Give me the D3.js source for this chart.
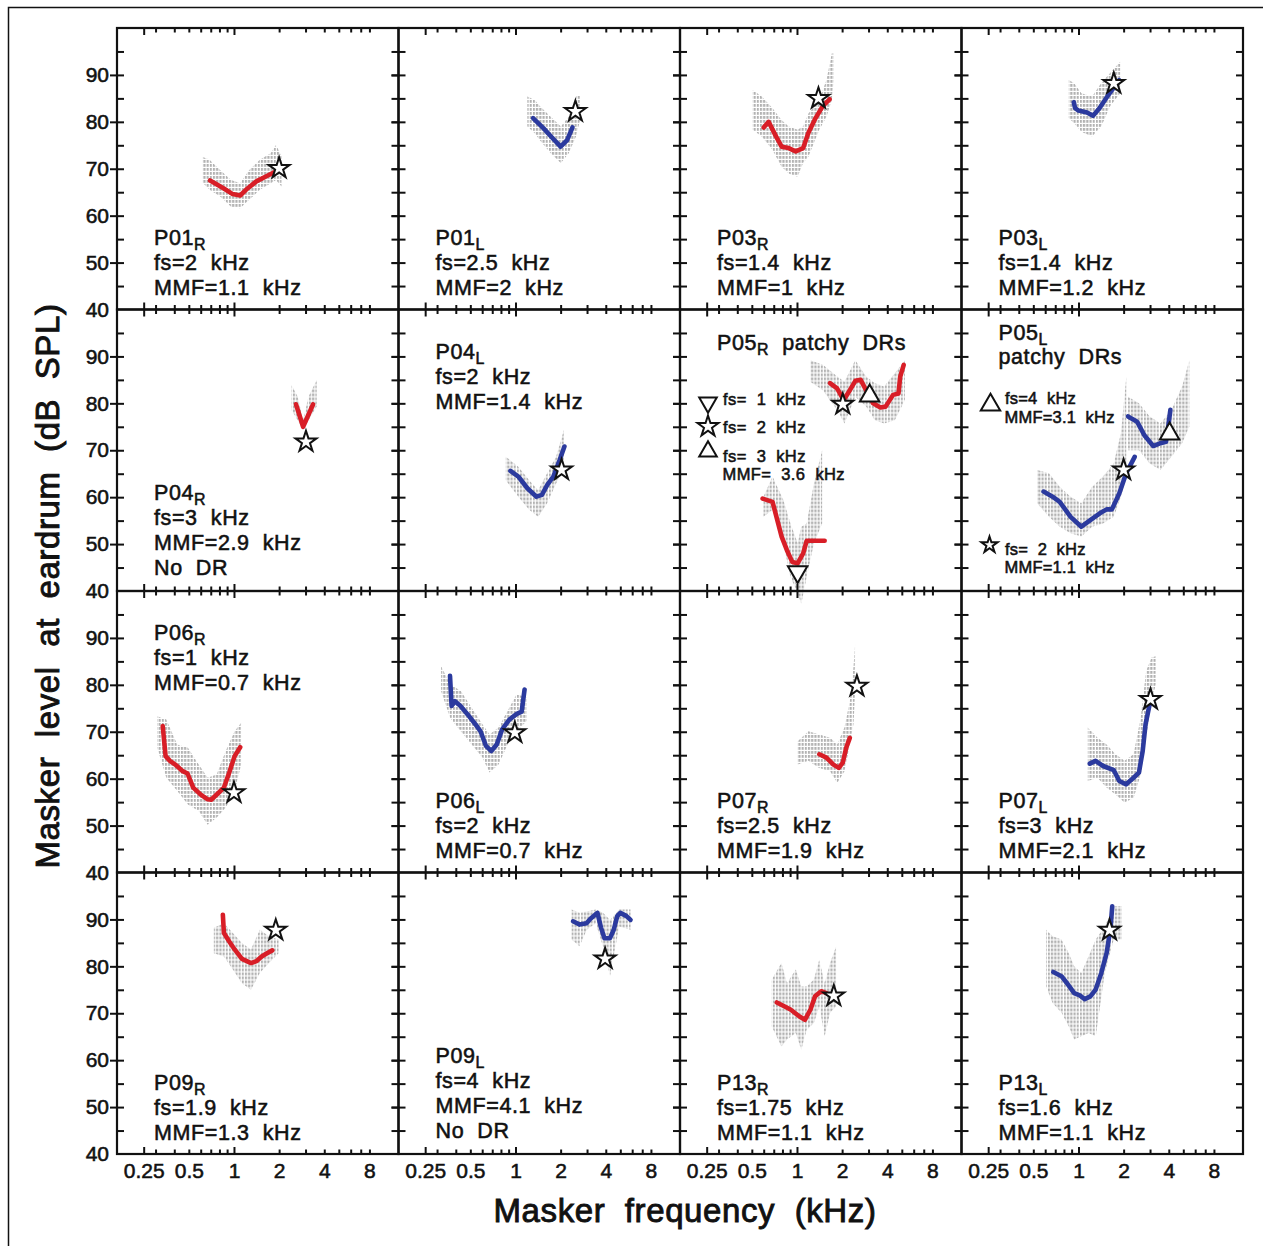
<!DOCTYPE html>
<html>
<head>
<meta charset="utf-8">
<script src="https://cdn.jsdelivr.net/npm/d3@7"></script>
<style>
  html, body { margin: 0; padding: 0; background: #fff; }
  svg { display: block; }
  text { font-family: "Liberation Sans", Arial, sans-serif; fill: #111; stroke: #111; stroke-width: 0.55px; white-space: pre; }
</style>
</head>
<body>
<svg id="chart" width="1263" height="1246"></svg>
<script>
// ---------------- DATA ----------------
const xTickValues = [0.25,0.3,0.4,0.5,0.6,0.7,0.8,0.9,1,2,3,4,5,6,7,8];
const xMajorTicks = [0.25,1];
const xTickLabels = [0.25,0.5,1,2,4,8];
const yMinorTicks = [45,55,65,75,85,95];
const yMajorTicks = [50,60,70,80,90];
const yTickLabels = [40,50,60,70,80,90];

// gray bands: [freq kHz, low dB, high dB]
const p01R_band = [[0.62,67.0,72.5],[0.687,65.5,71.9],[0.811,64.1,69.7],[0.956,61.9,67.6],[1.098,61.6,66.9],[1.261,63.4,69.7],[1.488,65.5,71.9],[1.757,66.9,73.3],[1.908,67.6,75.1],[2.073,66.2,72.6]];
const p01L_band = [[1.2,79.0,85.4],[1.34,77.6,84.7],[1.456,76.1,83.3],[1.718,73.3,81.1],[2.006,71.2,79.0],[2.265,73.3,81.1],[2.53,76.9,85.4],[2.70,80.4,85.7]];
const p03R_band = [[0.507,78.3,86.8],[0.582,76.9,85.4],[0.687,74.0,82.9],[0.788,70.5,80.4],[0.881,69.0,79.0],[1.01,68.3,78.3],[1.098,71.2,79.0],[1.193,72.6,81.8],[1.408,78.3,84.7],[1.573,81.1,88.9],[1.709,84.7,94.6],[1.757,88.9,94.6]];
const p03L_band = [[0.862,80.8,88.9],[0.936,79.7,88.2],[1.045,77.9,86.1],[1.234,76.9,85.4],[1.416,79.0,88.2],[1.626,83.3,90.4],[1.898,86.1,92.8]];
const p04R_band = [[2.42,78.6,83.9],[2.66,76.4,81.4],[2.89,74.3,76.4],[3.14,76.4,81.4],[3.56,79.3,85.0]];
const p04L_band = [[0.862,63.6,68.6],[1.045,60.1,66.5],[1.234,57.3,63.6],[1.416,55.8,61.5],[1.626,58.7,65.1],[1.866,62.9,68.6],[2.12,66.5,74.7]];
const p05R_bandHigh = [[1.227,84.6,89.2],[1.488,82.8,88.2],[1.856,78.6,85.7],[2.073,75.7,84.6],[2.447,81.4,89.2],[2.89,79.3,85.7],[3.31,76.4,84.3],[3.81,75.7,83.6],[4.49,76.4,86.4],[5.24,80.7,89.2]];
const p05R_bandLow = [[0.598,55.8,60.1],[0.687,57.3,64.4],[0.811,50.2,59.4],[0.905,43.0,54.4],[1.011,39.5,50.2],[1.068,37.3,53.7],[1.161,43.0,54.4],[1.297,50.2,62.9],[1.472,54.4,70.0]];
const p05L_bandLow = [[0.53,58.7,65.8],[0.636,55.8,65.1],[0.75,53.7,62.2],[0.886,52.3,60.1],[1.045,51.6,58.7],[1.234,53.7,62.2],[1.456,54.4,64.4],[1.718,55.8,67.2],[1.919,60.1,73.6],[2.085,64.4,85.7]];
const p05L_bandHigh = [[2.14,70.0,81.4],[2.53,70.0,80.0],[2.985,67.2,77.2],[3.52,65.8,75.7],[4.16,68.6,78.6],[4.91,71.5,83.6],[5.48,75.0,89.2]];
const p06R_band = [[0.308,66.6,73.3],[0.354,60.2,72.6],[0.418,57.4,67.3],[0.493,54.5,66.6],[0.582,53.1,63.0],[0.668,50.2,60.2],[0.767,51.7,60.9],[0.881,53.8,65.9],[1.011,57.4,70.1],[1.117,63.0,71.9]];
const p06L_band = [[0.319,78.7,84.0],[0.366,73.0,80.1],[0.432,70.1,78.7],[0.51,67.3,75.1],[0.602,64.5,71.6],[0.672,61.3,69.4],[0.771,63.0,70.9],[0.886,67.3,74.4],[1.017,70.1,78.0],[1.187,72.3,77.3]];
const p07R_band = [[1.011,63.0,68.0],[1.193,63.8,70.1],[1.408,62.3,69.4],[1.662,61.6,68.7],[1.856,59.1,67.3],[2.073,61.6,70.9],[2.252,67.3,76.5],[2.38,71.6,83.7],[2.447,78.7,89.0]];
const p07L_band = [[1.154,59.5,70.9],[1.34,60.2,68.7],[1.539,58.1,67.3],[1.766,56.6,65.2],[2.028,54.9,63.8],[2.33,55.9,65.2],[2.6,60.9,73.0],[2.825,68.7,82.9],[3.07,76.5,85.8],[3.28,80.1,86.1]];
const p09R_band = [[0.734,82.8,88.2],[0.857,82.1,89.2],[0.983,79.3,87.1],[1.129,76.4,85.0],[1.297,75.0,83.6],[1.488,78.6,87.8],[1.709,80.7,86.4],[1.984,82.8,85.7]];
const p09L_band = [[2.367,85.7,92.1],[2.673,84.3,91.4],[2.985,87.8,91.7],[3.43,89.2,92.1],[3.83,84.3,91.4],[4.27,77.9,89.9],[4.91,88.5,92.1],[5.86,87.8,92.1]];
const p13R_band = [[0.679,67.2,77.2],[0.788,62.9,80.7],[0.857,64.4,76.4],[0.983,65.8,79.3],[1.068,62.2,75.7],[1.161,66.5,75.7],[1.297,67.9,77.2],[1.408,71.5,81.4],[1.53,65.1,76.4],[1.662,70.1,80.7],[1.826,71.5,84.3]];
const p13L_band = [[0.608,75.7,87.8],[0.672,72.2,86.4],[0.771,70.1,85.7],[0.862,67.2,82.8],[0.936,64.4,80.0],[1.045,65.1,78.6],[1.167,65.8,82.1],[1.304,65.1,85.7],[1.497,78.6,88.5],[1.718,85.7,92.8],[1.94,85.7,92.8]];

// coloured (smoothed) lines: [freq kHz, level dB]
const p01R_line = [[0.693,67.5],[0.856,65.8],[0.98,64.6],[1.10,64.3],[1.23,65.8],[1.41,67.3],[1.67,68.5],[1.84,69.2]];
const p01L_line = [[1.31,80.8],[1.54,78.6],[1.77,76.5],[2.0,74.7],[2.21,76.1],[2.4,78.8]];
const p03R_line = [[0.60,78.8],[0.647,80.0],[0.725,76.9],[0.79,74.7],[0.88,74.4],[0.98,73.7],[1.10,74.4],[1.19,77.6],[1.33,80.8],[1.49,83.4],[1.65,84.8]];
const p03L_line = [[0.93,84.2],[0.95,82.9],[1.0,82.4],[1.14,82.0],[1.25,81.3],[1.38,82.9],[1.58,85.7],[1.87,88.9]];
const p04R_line = [[2.59,79.8],[2.89,75.0],[3.37,79.8]];
const p04L_line = [[0.926,65.6],[1.045,64.4],[1.2,61.9],[1.38,60.1],[1.5,60.5],[1.63,62.6],[1.79,64.4],[1.97,67.9],[2.12,70.8]];
const p05R_lineHigh = [[1.66,84.3],[1.85,83.2],[2.05,80.7],[2.25,82.8],[2.45,84.8],[2.66,85.0],[2.89,82.8],[3.22,80.0],[3.6,79.1],[3.9,79.3],[4.37,81.8],[4.75,82.1],[4.88,85.7],[5.15,88.2]];
const p05R_lineLow = [[0.59,59.7],[0.687,59.0],[0.79,51.6],[0.857,48.7],[0.93,46.2],[1.01,45.9],[1.1,48.0],[1.16,50.7],[1.53,50.7]];
const p05L_lineLow = [[0.585,61.2],[0.672,60.1],[0.75,59.0],[0.886,55.8],[1.045,53.7],[1.2,55.1],[1.38,56.5],[1.54,57.4],[1.67,57.4],[1.87,60.8],[2.08,65.1],[2.37,68.6]];
const p05L_lineHigh = [[2.14,77.2],[2.46,76.1],[2.75,73.2],[3.15,70.9],[3.52,71.5],[3.83,71.8],[3.94,74.3],[4.1,78.6]];
const p06R_line = [[0.335,71.2],[0.35,64.8],[0.374,63.8],[0.406,63.0],[0.455,61.6],[0.49,61.1],[0.535,58.1],[0.6,56.6],[0.668,55.6],[0.705,55.5],[0.79,57.0],[0.857,58.1],[0.93,61.3],[1.01,64.8],[1.1,66.7]];
const p06L_line = [[0.366,81.9],[0.375,75.5],[0.395,76.5],[0.43,75.5],[0.48,73.7],[0.54,71.6],[0.585,70.1],[0.635,67.0],[0.69,65.9],[0.75,67.3],[0.815,70.5],[0.91,72.6],[1.02,73.8],[1.1,74.3],[1.15,79.0]];
const p07R_line = [[1.41,65.2],[1.57,64.5],[1.75,63.0],[1.9,62.3],[2.02,63.4],[2.13,66.6],[2.25,68.7]];
const p07L_line = [[1.19,63.2],[1.3,63.8],[1.46,62.7],[1.72,61.8],[1.87,59.5],[2.08,58.8],[2.33,60.2],[2.53,61.3],[2.68,65.9],[2.8,71.6],[2.98,75.8]];
const p09R_line = [[0.843,91.0],[0.857,87.1],[0.93,85.3],[1.01,83.6],[1.13,81.6],[1.3,80.7],[1.41,81.1],[1.53,82.1],[1.66,82.8],[1.8,83.4]];
const p09L_line = [[2.42,89.6],[2.67,88.9],[2.98,89.2],[3.15,90.1],[3.52,91.4],[3.72,88.2],[3.92,86.0],[4.27,86.0],[4.52,87.8],[4.77,90.7],[5.0,91.4],[5.5,90.7],[5.85,89.9]];
const p13R_line = [[0.734,72.3],[0.81,71.6],[0.905,70.8],[1.04,69.3],[1.13,68.6],[1.23,70.8],[1.32,73.6],[1.45,74.7],[1.57,74.3]];
const p13L_line = [[0.679,78.8],[0.77,77.9],[0.838,76.4],[0.936,74.3],[1.02,73.8],[1.1,73.0],[1.2,73.6],[1.3,75.0],[1.42,78.6],[1.54,82.8],[1.63,87.8],[1.68,92.8]];

// markers: [symbol, freq kHz, level dB]
const p01R_marks = [["star",2.0,70.1]];
const p01L_marks = [["star",2.51,82.2]];
const p03R_marks = [["star",1.39,85.0]];
const p03L_marks = [["star",1.72,88.2]];
const p04R_marks = [["star",3.02,71.8]];
const p04L_marks = [["star",2.03,65.8]];
const p05R_marks = [["down",1.01,44.1],["star",2.02,79.8],["up",3.05,81.6]];
const p05L_marks = [["star",2.0,65.8],["up",4.05,73.5]];
const p06R_marks = [["star",1.0,57.0]];
const p06L_marks = [["star",0.99,69.8]];
const p07R_marks = [["star",2.51,79.7]];
const p07L_marks = [["star",3.02,76.9]];
const p09R_marks = [["star",1.9,87.7]];
const p09L_marks = [["star",3.96,81.6]];
const p13R_marks = [["star",1.76,73.7]];
const p13L_marks = [["star",1.61,87.7]];

// panel ids, ears and text
const panelIds  = ["P01","P01","P03","P03","P04","P04","P05","P05","P06","P06","P07","P07","P09","P09","P13","P13"];
const panelEars = ["R","L","R","L","R","L","R","L","R","L","R","L","R","L","R","L"];
const panelFs   = ["fs=2  kHz","fs=2.5  kHz","fs=1.4  kHz","fs=1.4  kHz","fs=3  kHz","fs=2  kHz","","","fs=1  kHz","fs=2  kHz","fs=2.5  kHz","fs=3  kHz","fs=1.9  kHz","fs=4  kHz","fs=1.75  kHz","fs=1.6  kHz"];
const panelMmf  = ["MMF=1.1  kHz","MMF=2  kHz","MMF=1  kHz","MMF=1.2  kHz","MMF=2.9  kHz","MMF=1.4  kHz","","","MMF=0.7  kHz","MMF=0.7  kHz","MMF=1.9  kHz","MMF=2.1  kHz","MMF=1.3  kHz","MMF=4.1  kHz","MMF=1.1  kHz","MMF=1.1  kHz"];
const panelExtra = ["","","","","No  DR","","","","","","","","","No  DR","",""];
const panelTextPos = ["bottom","bottom","bottom","bottom","bottom","top","special","special","top","bottom","bottom","bottom","bottom","bottom","bottom","bottom"];
const p05R_legend = [["down","fs=  1  kHz",""],["star","fs=  2  kHz",""],["up","fs=  3  kHz","MMF=  3.6  kHz"]];
const p05L_legend = [["up","fs=4  kHz","MMF=3.1  kHz"],["star","fs=  2  kHz","MMF=1.1  kHz"]];

const xTitle = "Masker  frequency  (kHz)";
const yTitle = "Masker  level  at  eardrum  (dB  SPL)";

// ---------------- LAYOUT ----------------
const RED = "#d81e27", BLUE = "#2b3a9e", GRAY = "#b2b2b2";
const LEFT = 117, TOP = 28, PW = 281.5, PH = 281.5;
const FONT = "'Liberation Sans', Arial, sans-serif";

const bands = [[p01R_band],[p01L_band],[p03R_band],[p03L_band],[p04R_band],[p04L_band],[p05R_bandHigh,p05R_bandLow],[p05L_bandLow,p05L_bandHigh],[p06R_band],[p06L_band],[p07R_band],[p07L_band],[p09R_band],[p09L_band],[p13R_band],[p13L_band]];
const lines = [[p01R_line],[p01L_line],[p03R_line],[p03L_line],[p04R_line],[p04L_line],[p05R_lineHigh,p05R_lineLow],[p05L_lineLow,p05L_lineHigh],[p06R_line],[p06L_line],[p07R_line],[p07L_line],[p09R_line],[p09L_line],[p13R_line],[p13L_line]];
const marks = [p01R_marks,p01L_marks,p03R_marks,p03L_marks,p04R_marks,p04L_marks,p05R_marks,p05L_marks,p06R_marks,p06L_marks,p07R_marks,p07L_marks,p09R_marks,p09L_marks,p13R_marks,p13L_marks];

const panels = panelIds.map((id,i)=>({
  id, ear: panelEars[i], row: Math.floor(i/4), col: i%4,
  color: panelEars[i]==="R" ? RED : BLUE,
  bands: bands[i], lines: lines[i], marks: marks[i],
  fs: panelFs[i], mmf: panelMmf[i], extra: panelExtra[i], pos: panelTextPos[i]
}));

const svg = d3.select("#chart");
svg.append("rect").attr("width",1263).attr("height",1246).attr("fill","#fff");
svg.append("rect").attr("x",8.5).attr("y",7.5).attr("width",1300).attr("height",1300)
   .attr("fill","none").attr("stroke","#111").attr("stroke-width",1.5);

const defs = svg.append("defs");
const pat = defs.append("pattern").attr("id","grayDots").attr("patternUnits","userSpaceOnUse")
  .attr("width",3.2).attr("height",4);
pat.append("rect").attr("x",0).attr("y",0).attr("width",2.1).attr("height",2.8).attr("fill",GRAY);

const x = d3.scaleLog().domain([0.166,12.5]).range([0,PW]);
const y = d3.scaleLinear().domain([40,100]).range([PH,0]);

function symbolPath(type, r) {
  if (type === "star") return d3.symbol(d3.symbolStar, r*r/0.8908)();
  const size = Math.sqrt(3)/4 * (r*1.85)*(r*1.85);
  return d3.symbol(d3.symbolTriangle, size)();
}
function drawSymbol(g, type, cx, cy, r) {
  g.append("path").attr("d", symbolPath(type, r))
    .attr("transform", `translate(${cx},${cy})` + (type==="down" ? " rotate(180)" : ""))
    .attr("fill","#fff").attr("stroke","#111").attr("stroke-width",2).attr("stroke-linejoin","miter");
}
function labelText(g, xPos, yPos, main, sub, rest, size) {
  const t = g.append("text").attr("x",xPos).attr("y",yPos).attr("font-size",size).attr("letter-spacing",0.6);
  t.append("tspan").text(main);
  if (sub) t.append("tspan").attr("font-size",size*0.74).attr("dy",5).text(sub);
  if (rest) t.append("tspan").attr("dy",sub?-5:0).text(rest);
  return t;
}

const area = d3.area().x(d=>x(d[0])).y0(d=>y(d[1])).y1(d=>y(d[2]));
const line = d3.line().x(d=>x(d[0])).y(d=>y(d[1])).curve(d3.curveLinear);

function styleAxis(sel) {
  sel.select(".domain").remove();
  sel.selectAll("line").attr("stroke","#111").attr("stroke-width",2);
  sel.attr("font-family",FONT);
}

panels.forEach(p => {
  const g = svg.append("g").attr("transform",`translate(${LEFT+p.col*PW},${TOP+p.row*PH})`);

  // gray bands
  p.bands.forEach(b => g.append("path").attr("d",area(b)).attr("fill","url(#grayDots)"));
  // coloured lines
  p.lines.forEach(l => g.append("path").attr("d",line(l)).attr("fill","none")
     .attr("stroke",p.color).attr("stroke-width",4.6).attr("stroke-linejoin","round").attr("stroke-linecap","round"));
  // markers
  p.marks.forEach(m => drawSymbol(g, m[0], x(m[1]), y(m[2]), m[0]==="star"?11:10.5));

  // axes ticks (inward), mirrored on all sides
  const minorX = xTickValues.filter(v=>!xMajorTicks.includes(v));
  g.append("g").attr("transform",`translate(0,${PH})`).call(d3.axisBottom(x).tickValues(minorX).tickSize(-4.5).tickFormat("")).call(styleAxis);
  g.append("g").attr("transform",`translate(0,${PH})`).call(d3.axisBottom(x).tickValues(xMajorTicks).tickSize(-7).tickFormat("")).call(styleAxis);
  g.append("g").call(d3.axisTop(x).tickValues(minorX).tickSize(-4.5).tickFormat("")).call(styleAxis);
  g.append("g").call(d3.axisTop(x).tickValues(xMajorTicks).tickSize(-7).tickFormat("")).call(styleAxis);
  g.append("g").call(d3.axisLeft(y).tickValues(yMinorTicks.concat(yMajorTicks)).tickSize(-7).tickFormat("")).call(styleAxis);
  g.append("g").call(d3.axisLeft(y).tickValues(yMajorTicks).tickSize(7).tickFormat("")).call(styleAxis);
  g.append("g").attr("transform",`translate(${PW},0)`).call(d3.axisRight(y).tickValues(yMinorTicks.concat(yMajorTicks)).tickSize(-7).tickFormat("")).call(styleAxis);

  if (p.col === 0) {
    const a = g.append("g").call(d3.axisLeft(y).tickValues(yTickLabels).tickSize(0).tickPadding(8).tickFormat(d3.format("d")));
    a.select(".domain").remove();
    a.attr("font-family",FONT).attr("font-size",21);
    a.selectAll("text").attr("fill","#111");
  }
  if (p.row === 3) {
    const a = g.append("g").attr("transform",`translate(0,${PH})`)
      .call(d3.axisBottom(x).tickValues(xTickLabels).tickSize(0).tickPadding(9).tickFormat(d=>String(d)));
    a.select(".domain").remove();
    a.attr("font-family",FONT).attr("font-size",21);
    a.selectAll("text").attr("fill","#111");
  }

  // border
  g.append("rect").attr("width",PW).attr("height",PH).attr("fill","none").attr("stroke","#111").attr("stroke-width",2.2);

  // text
  const tx = 37, fsz = 21.5;
  if (p.pos === "bottom" || p.pos === "top") {
    let ys;
    if (p.pos === "top") ys = [49,74,99];
    else ys = p.extra ? [190,215,240,265] : [217,242,267];
    labelText(g, tx, ys[0], p.id, p.ear, "", fsz);
    labelText(g, tx, ys[1], p.fs, "", "", fsz);
    labelText(g, tx, ys[2], p.mmf, "", "", fsz);
    if (p.extra) labelText(g, tx, ys[3], p.extra, "", "", fsz);
  } else if (p.ear === "R") {
    labelText(g, tx, 40, p.id, p.ear, "  patchy  DRs", fsz);
    const symY = [93, 117, 142], txtY = [95.5, 123.8, 152.2];
    p05R_legend.forEach((d,k) => {
      drawSymbol(g, d[0], 28, symY[k], d[0]==="star"?11:9.5);
      g.append("text").attr("x",43).attr("y",txtY[k]).attr("font-size",16.5).attr("letter-spacing",0.4).text(d[1]);
      if (d[2]) g.append("text").attr("x",42.5).attr("y",txtY[k]+18.3).attr("font-size",16.5).attr("letter-spacing",0.4).text(d[2]);
    });
  } else {
    labelText(g, tx, 30.5, p.id, p.ear, "", fsz);
    labelText(g, tx, 54.5, "patchy  DRs", "", "", fsz);
    const symPos = [[29,95.5,10.5],[28,235.5,8.5]], txtY = [[94.8,113.8],[245.5,263.8]];
    p05L_legend.forEach((d,k) => {
      drawSymbol(g, d[0], symPos[k][0], symPos[k][1], symPos[k][2]);
      g.append("text").attr("x",43.5).attr("y",txtY[k][0]).attr("font-size",16.5).attr("letter-spacing",0.2).text(d[1]);
      g.append("text").attr("x",43).attr("y",txtY[k][1]).attr("font-size",16.5).attr("letter-spacing",0.2).text(d[2]);
    });
  }
});

// axis titles
svg.append("text").attr("x",685).attr("y",1222).attr("text-anchor","middle")
  .attr("font-size",33).attr("letter-spacing",0.6).style("stroke-width","0.9px").text(xTitle);
svg.append("text").attr("transform","translate(59,586) rotate(-90)").attr("text-anchor","middle")
  .attr("font-size",33).attr("letter-spacing",0.6).style("stroke-width","0.9px").text(yTitle);
</script>
</body>
</html>
